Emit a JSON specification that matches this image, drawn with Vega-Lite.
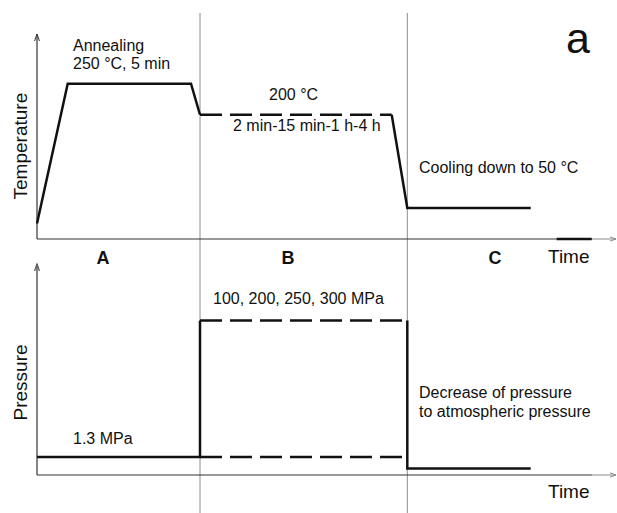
{
  "$schema": "https://vega.github.io/schema/vega-lite/v6.json",
  "padding": {"top": 12, "left": 0, "right": 0, "bottom": 0},
  "spacing": 0,
  "bounds": "flush",
  "config": {
    "view": {"stroke": null},
    "text": {"font": "Liberation Sans", "fill": "#111"}
  },
  "datasets": {
    "stageEnds": [{"t": 16.3}, {"t": 37.03}],
    "temperature": [
      {"phase": "A", "i": 1, "t": 0, "T": 25},
      {"phase": "A", "i": 2, "t": 3.07, "T": 250},
      {"phase": "A", "i": 3, "t": 15.4, "T": 250},
      {"phase": "A", "i": 4, "t": 16.3, "T": 200},
      {"phase": "B", "i": 5, "t": 16.3, "T": 200},
      {"phase": "B", "i": 6, "t": 35.47, "T": 200},
      {"phase": "C", "i": 7, "t": 35.47, "T": 200},
      {"phase": "C", "i": 8, "t": 37.03, "T": 50},
      {"phase": "C", "i": 9, "t": 49.37, "T": 50}
    ],
    "pressure": [
      {"phase": "A", "level": "base", "i": 1, "t": 0, "P": 1.3},
      {"phase": "A", "level": "base", "i": 2, "t": 16.3, "P": 1.3},
      {"phase": "A", "level": "base", "i": 3, "t": 16.3, "P": 300},
      {"phase": "B", "level": "high", "i": 4, "t": 16.3, "P": 300},
      {"phase": "B", "level": "high", "i": 5, "t": 37.03, "P": 300},
      {"phase": "B", "level": "low", "i": 6, "t": 16.3, "P": 1.3},
      {"phase": "B", "level": "low", "i": 7, "t": 36.6, "P": 1.3},
      {"phase": "C", "level": "release", "i": 8, "t": 37.03, "P": 300},
      {"phase": "C", "level": "release", "i": 9, "t": 37.03, "P": 0.1},
      {"phase": "C", "level": "release", "i": 10, "t": 49.37, "P": 0.1}
    ],
    "tempNotes": [
      {"t": 3.6, "T": 302.6, "note": "Annealing"},
      {"t": 3.6, "T": 272.9, "note": "250 °C, 5 min"},
      {"t": 23.2, "T": 223.8, "note": "200 °C"},
      {"t": 19.6, "T": 173.9, "note": "2 min-15 min-1 h-4 h"},
      {"t": 38.2, "T": 106.2, "note": "Cooling down to 50 °C"}
    ],
    "stages": [
      {"t": 6.6, "T": -40.2, "stage": "A"},
      {"t": 25.1, "T": -40.2, "stage": "B"},
      {"t": 45.8, "T": -40.2, "stage": "C"}
    ],
    "pressNotes": [
      {"t": 17.6, "P": 386, "note": "100, 200, 250, 300 MPa"},
      {"t": 3.6, "P": 5.28, "note": "1.3 MPa"},
      {"t": 38.2, "P": 52.0, "note": "Decrease of pressure"},
      {"t": 38.2, "P": 25.5, "note": "to atmospheric pressure"}
    ]
  },
  "vconcat": [
    {
      "width": 617,
      "height": 238,
      "layer": [
        {
          "data": {"name": "stageEnds"},
          "mark": {"type": "rule", "stroke": "#8c8c8c", "strokeWidth": 1},
          "encoding": {
            "x": {"field": "t", "type": "quantitative", "axis": null,
                  "scale": {"domain": [-3.7, 58], "nice": false, "zero": false}}
          }
        },
        {
          "data": {"values": [{}]},
          "mark": {"type": "rule", "stroke": "#333", "strokeWidth": 1.2},
          "encoding": {
            "x": {"datum": 0, "type": "quantitative", "axis": null},
            "y": {"datum": 0, "type": "quantitative", "axis": null},
            "y2": {"datum": 330}
          }
        },
        {
          "data": {"values": [{}]},
          "mark": {"type": "rule", "stroke": "#333", "strokeWidth": 1.2},
          "encoding": {
            "x": {"datum": 0, "type": "quantitative", "axis": null},
            "x2": {"datum": 55.5},
            "y": {"datum": 0, "type": "quantitative", "axis": null}
          }
        },
        {
          "data": {"values": [{}]},
          "mark": {"type": "rule", "stroke": "#8a8a8a", "strokeWidth": 1},
          "encoding": {
            "x": {"datum": 55.5, "type": "quantitative", "axis": null},
            "x2": {"datum": 57.9},
            "y": {"datum": 0, "type": "quantitative", "axis": null}
          }
        },
        {
          "data": {"values": [{}]},
          "mark": {"type": "rule", "stroke": "#111", "strokeWidth": 2.6},
          "encoding": {
            "x": {"datum": 51.97, "type": "quantitative", "axis": null},
            "x2": {"datum": 55.47},
            "y": {"datum": 0, "type": "quantitative", "axis": null}
          }
        },
        {
          "data": {"values": [{}]},
          "mark": {"type": "point", "shape": "M-0.7,2L0,0L0.7,2", "size": 49, "filled": false, "stroke": "#333", "strokeWidth": 1, "opacity": 1},
          "encoding": {
            "x": {"datum": 0, "type": "quantitative", "axis": null},
            "y": {"datum": 330, "type": "quantitative", "axis": null}
          }
        },
        {
          "data": {"values": [{}]},
          "mark": {"type": "point", "shape": "M-2,-0.7L0,0L-2,0.7", "size": 36, "filled": false, "stroke": "#8a8a8a", "strokeWidth": 1, "opacity": 1},
          "encoding": {
            "x": {"datum": 57.9, "type": "quantitative", "axis": null},
            "y": {"datum": 0, "type": "quantitative", "axis": null}
          }
        },
        {
          "data": {"name": "temperature"},
          "transform": [{"filter": "datum.phase !== 'B'"}],
          "mark": {"type": "line", "stroke": "#111", "strokeWidth": 2.5},
          "encoding": {
            "x": {"field": "t", "type": "quantitative", "axis": null,
                  "scale": {"domain": [-3.7, 58], "nice": false, "zero": false}},
            "y": {"field": "T", "type": "quantitative", "axis": null,
                  "scale": {"domain": [0, 330], "range": [226, 21], "nice": false, "zero": false}},
            "detail": {"field": "phase"},
            "order": {"field": "i"}
          }
        },
        {
          "data": {"name": "temperature"},
          "transform": [{"filter": "datum.phase === 'B'"}],
          "mark": {"type": "line", "stroke": "#111", "strokeWidth": 2.5, "strokeDash": [22, 8]},
          "encoding": {
            "x": {"field": "t", "type": "quantitative", "axis": null},
            "y": {"field": "T", "type": "quantitative", "axis": null},
            "order": {"field": "i"}
          }
        },
        {
          "data": {"name": "tempNotes"},
          "mark": {"type": "text", "fontSize": 16, "align": "left", "baseline": "alphabetic", "fill": "#111"},
          "encoding": {
            "x": {"field": "t", "type": "quantitative", "axis": null},
            "y": {"field": "T", "type": "quantitative", "axis": null},
            "text": {"field": "note"}
          }
        },
        {
          "data": {"name": "stages"},
          "mark": {"type": "text", "fontSize": 18, "fontWeight": "bold", "align": "center", "baseline": "alphabetic", "fill": "#111"},
          "encoding": {
            "x": {"field": "t", "type": "quantitative", "axis": null},
            "y": {"field": "T", "type": "quantitative", "axis": null},
            "text": {"field": "stage"}
          }
        },
        {
          "data": {"values": [{"t": -1.05, "T": 149.5, "label": "Temperature"}]},
          "mark": {"type": "text", "fontSize": 19, "angle": 270, "align": "center", "baseline": "alphabetic", "fill": "#111"},
          "encoding": {
            "x": {"field": "t", "type": "quantitative", "axis": null},
            "y": {"field": "T", "type": "quantitative", "axis": null},
            "text": {"field": "label"}
          }
        },
        {
          "data": {"values": [{"t": 51.1, "T": -38.6, "label": "Time"}]},
          "mark": {"type": "text", "fontSize": 19, "align": "left", "baseline": "alphabetic", "fill": "#111"},
          "encoding": {
            "x": {"field": "t", "type": "quantitative", "axis": null},
            "y": {"field": "T", "type": "quantitative", "axis": null},
            "text": {"field": "label"}
          }
        },
        {
          "data": {"values": [{"t": 52.9, "T": 299.4, "label": "a"}]},
          "mark": {"type": "text", "fontSize": 43, "align": "left", "baseline": "alphabetic", "fill": "#111"},
          "encoding": {
            "x": {"field": "t", "type": "quantitative", "axis": null},
            "y": {"field": "T", "type": "quantitative", "axis": null},
            "text": {"field": "label"}
          }
        }
      ]
    },
    {
      "width": 617,
      "height": 263,
      "layer": [
        {
          "data": {"name": "stageEnds"},
          "mark": {"type": "rule", "stroke": "#8c8c8c", "strokeWidth": 1},
          "encoding": {
            "x": {"field": "t", "type": "quantitative", "axis": null,
                  "scale": {"domain": [-3.7, 58], "nice": false, "zero": false}}
          }
        },
        {
          "data": {"values": [{}]},
          "mark": {"type": "rule", "stroke": "#333", "strokeWidth": 1.2},
          "encoding": {
            "x": {"datum": 0, "type": "quantitative", "axis": null},
            "y": {"datum": 0, "type": "quantitative", "axis": null},
            "y2": {"datum": 660}
          }
        },
        {
          "data": {"values": [{}]},
          "mark": {"type": "rule", "stroke": "#333", "strokeWidth": 1.2},
          "encoding": {
            "x": {"datum": 0, "type": "quantitative", "axis": null},
            "x2": {"datum": 55.5},
            "y": {"datum": 0, "type": "quantitative", "axis": null}
          }
        },
        {
          "data": {"values": [{}]},
          "mark": {"type": "rule", "stroke": "#8a8a8a", "strokeWidth": 1},
          "encoding": {
            "x": {"datum": 55.5, "type": "quantitative", "axis": null},
            "x2": {"datum": 57.9},
            "y": {"datum": 0, "type": "quantitative", "axis": null}
          }
        },
        {
          "data": {"values": [{}]},
          "mark": {"type": "point", "shape": "M-0.7,2L0,0L0.7,2", "size": 49, "filled": false, "stroke": "#555", "strokeWidth": 1.2, "opacity": 1},
          "encoding": {
            "x": {"datum": 0, "type": "quantitative", "axis": null},
            "y": {"datum": 660, "type": "quantitative", "axis": null}
          }
        },
        {
          "data": {"values": [{}]},
          "mark": {"type": "point", "shape": "M-2,-0.7L0,0L-2,0.7", "size": 36, "filled": false, "stroke": "#8a8a8a", "strokeWidth": 1, "opacity": 1},
          "encoding": {
            "x": {"datum": 57.9, "type": "quantitative", "axis": null},
            "y": {"datum": 0, "type": "quantitative", "axis": null}
          }
        },
        {
          "data": {"name": "pressure"},
          "transform": [{"filter": "datum.phase !== 'B'"}],
          "mark": {"type": "line", "stroke": "#111", "strokeWidth": 2.5},
          "encoding": {
            "x": {"field": "t", "type": "quantitative", "axis": null,
                  "scale": {"domain": [-3.7, 58], "nice": false, "zero": false}},
            "y": {"field": "P", "type": "quantitative", "axis": null,
                  "scale": {"type": "pow", "exponent": 0.395, "domain": [0, 660], "range": [224, 13], "nice": false, "zero": false}},
            "detail": {"field": "level"},
            "order": {"field": "i"}
          }
        },
        {
          "data": {"name": "pressure"},
          "transform": [{"filter": "datum.phase === 'B'"}],
          "mark": {"type": "line", "stroke": "#111", "strokeWidth": 2.5, "strokeDash": [22, 8]},
          "encoding": {
            "x": {"field": "t", "type": "quantitative", "axis": null},
            "y": {"field": "P", "type": "quantitative", "axis": null},
            "detail": {"field": "level"},
            "order": {"field": "i"}
          }
        },
        {
          "data": {"name": "pressNotes"},
          "mark": {"type": "text", "fontSize": 16, "align": "left", "baseline": "alphabetic", "fill": "#111"},
          "encoding": {
            "x": {"field": "t", "type": "quantitative", "axis": null},
            "y": {"field": "P", "type": "quantitative", "axis": null},
            "text": {"field": "note"}
          }
        },
        {
          "data": {"values": [{"t": -1.05, "P": 81.9, "label": "Pressure"}]},
          "mark": {"type": "text", "fontSize": 19, "angle": 270, "align": "center", "baseline": "alphabetic", "fill": "#111"},
          "encoding": {
            "x": {"field": "t", "type": "quantitative", "axis": null},
            "y": {"field": "P", "type": "quantitative", "axis": null},
            "text": {"field": "label"}
          }
        },
        {
          "data": {"values": [{"t": 51.1, "P": -2.42, "label": "Time"}]},
          "mark": {"type": "text", "fontSize": 19, "align": "left", "baseline": "alphabetic", "fill": "#111"},
          "encoding": {
            "x": {"field": "t", "type": "quantitative", "axis": null},
            "y": {"field": "P", "type": "quantitative", "axis": null},
            "text": {"field": "label"}
          }
        }
      ]
    }
  ],
  "resolve": {"scale": {"y": "independent"}}
}
